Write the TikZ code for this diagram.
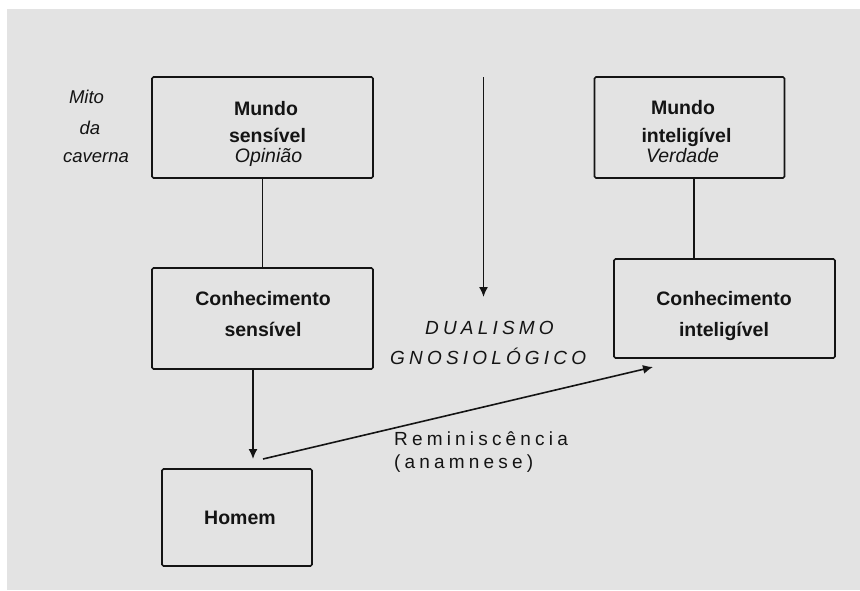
\documentclass[tikz,border=0pt]{standalone}
\usepackage{fontspec}
\setmainfont{Liberation Sans}
\usetikzlibrary{arrows.meta}
\definecolor{fundo}{HTML}{E3E3E3}
\definecolor{tinta}{HTML}{141414}
\tikzset{
  caixa/.style={draw=tinta, line width=1.6pt, rounded corners=1.5pt, inner sep=0pt},
  tit/.style={anchor=base, inner sep=0pt, text=tinta, font=\fontsize{19.5}{20}\selectfont\bfseries},
  sub/.style={anchor=base, inner sep=0pt, text=tinta, font=\fontsize{19.5}{20}\selectfont\itshape},
  mito/.style={anchor=base, inner sep=0pt, text=tinta, font=\fontsize{18.5}{20}\selectfont\itshape},
  esp/.style={anchor=base west, inner sep=0pt, text=tinta, font=\fontsize{19}{20}\selectfont\addfontfeature{LetterSpace=22}},
  liga/.style={draw=tinta, line width=1.6pt},
  seta/.style={liga, -{Latex[length=10pt, width=9pt]}}
}

\begin{document}
\begin{tikzpicture}[x=1pt, y=-1pt]
	\useasboundingbox (0,0) rectangle (860,590);
	\fill[white] (0,0) rectangle (860,590);
	\fill[fundo] (7,9) rectangle (860,590);
	% caixas
	\node[caixa, minimum width=221pt, minimum height=101pt] (msens) at (262.5,127.5) {};
	\node[caixa, minimum width=190pt, minimum height=101pt] (mintel) at (689.5,127.5) {};
	\node[caixa, minimum width=221pt, minimum height=101pt] (csens) at (262.5,318.5) {};
	\node[caixa, minimum width=221pt, minimum height=99pt] (cintel) at (724.5,308.5) {};
	\node[caixa, minimum width=150pt, minimum height=97pt] (homem) at (237,517.5) {};
	% textos das caixas
	\node[tit] (msensa) at (266,115) {Mundo};
	\node[tit] (msensb) at (267.5,142.7) {sensível};
	\node[sub] (msensc) at (268.5,162.7) {Opinião};
	\node[tit] (mintela) at (683,114) {Mundo};
	\node[tit] (mintelb) at (686.5,142.7) {inteligível};
	\node[sub] (mintelc) at (682.5,162.7) {Verdade};
	\node[tit] (csensa) at (263,305) {Conhecimento};
	\node[tit] (csensb) at (263,336) {sensível};
	\node[tit] (cintela) at (724,305) {Conhecimento};
	\node[tit] (cintelb) at (724,336) {inteligível};
	\node[tit] (homema) at (240,524) {Homem};
	% mito da caverna
	\node[mito] (mitoa) at (86.5,103.3) {Mito};
	\node[mito] (mitob) at (90,134) {da};
	\node[mito] (mitoc) at (96,162.7) {caverna};
	% dualismo
	\node[esp, font=\fontsize{19}{20}\selectfont\itshape\addfontfeature{LetterSpace=22}] (duala) at (425,334.3) {DUALISMO};
	\node[esp, font=\fontsize{19}{20}\selectfont\itshape\addfontfeature{LetterSpace=22}] (dualb) at (390,364.3) {GNOSIOLÓGICO};
	\node[esp] (remia) at (394,445) {Reminiscência};
	\node[esp] (remib) at (394,468) {(anamnese)};
	% ligacoes
	\coordinate (topo) at (483.5,77);
	\coordinate (baixo) at (483.5,297);
	\coordinate (desce) at (253,459);
	\coordinate (ini) at (263,459);
	\coordinate (fim) at (653,367);
	\draw[liga] (msens.south) -- (csens.north);
	\draw[liga] ([xshift=4.5pt]mintel.south) -- ([xshift=-30.5pt]cintel.north);
	\draw[seta] ([xshift=-9.5pt]csens.south) -- (desce);
	\draw[seta] (topo) -- (baixo);
	\draw[seta] (ini) -- (fim);
\end{tikzpicture}
\end{document}
